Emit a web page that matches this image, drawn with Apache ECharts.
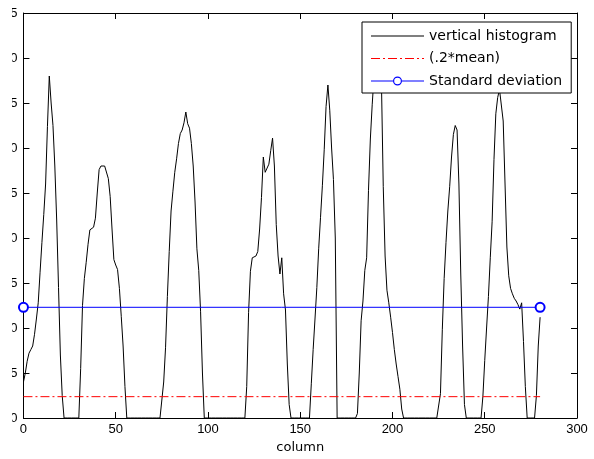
<!DOCTYPE html>
<html>
<head>
<meta charset="utf-8">
<script src="https://cdn.jsdelivr.net/npm/echarts@6/dist/echarts.min.js"></script>
<style>html,body{margin:0;padding:0;background:#fff;}#chart{width:594px;height:459px;}</style>
</head>
<body>
<div id="chart"></div>
<script>
// vertical histogram values, one per column 0..280
var histValues = [
  4.0,5.0,6.3,7.2,7.6,8.0,9.3,11.0,12.8,16.2,
  19.5,22.6,26.0,32.4,38.0,35.0,32.5,28.0,22.0,14.5,
  7.0,2.5,0,0,0,0,0,0,0,0,
  0,5.5,12.5,15.5,17.3,19.3,20.9,21.0,21.2,22.2,
  25.0,27.6,28.0,28.0,28.0,28.0,26.6,24.6,21.0,17.6,
  17.0,16.5,14.4,11.3,8.0,3.5,0,0,0,0,
  0,0,0,0,0,0,0,0,0,0,
  0,0,0,0,0,0,4.0,7.8,13.5,18.5,
  23.0,25.2,27.3,28.8,30.5,31.6,32.0,32.8,34.0,32.7,
  32.2,30.5,28.0,24.0,18.8,16.4,11.8,5.0,0,0,
  0,0,0,0,0,0,0,0,0,0,
  0,0,0,0,0,0,0,0,0,0,
  0,3.5,11.7,16.3,17.8,18.0,18.0,18.5,21.0,24.5,
  29.0,27.3,27.5,28.2,29.7,31.1,28.0,21.5,18.0,16.0,
  17.8,13.8,12.0,6.0,1.5,0,0,0,0,0,
  0,0,0,0,0,0,3.8,7.6,11.0,14.5,
  18.8,22.3,25.8,29.8,34.6,37.0,34.2,30.0,26.5,20.0,
  0,0,0,0,0,0,0,0,0,0,
  0,0.5,5.0,10.8,13.0,16.4,17.8,25.3,31.0,34.8,
  38.0,41.0,42.0,40.5,37.5,25.7,18.0,14.2,12.8,11.2,
  9.5,7.6,6.0,4.6,3.2,1.0,0,0,0,0,
  0,0,0,0,0,0,0,0,0,0,
  0,0,0,0,0,0,2.7,9.8,15.5,19.5,
  23.0,25.7,29.0,31.5,32.5,32.0,26.0,16.0,8.0,1.5,
  0,0,0,0,0,0,0,0,0,2.4,
  6.4,10.0,13.5,17.8,21.8,28.7,33.8,35.6,36.5,36.4,
  33.0,26.0,19.0,15.8,14.4,13.8,13.3,13.0,12.6,12.1,
  12.8,8.5,3.5,0,0,0,0,0,2.5,8.0,
  11.2
];
var lineStart = 0, lineEnd = 280;
var meanLevel = 2.37;   // (.2*mean)
var stdLevel = 12.3;    // standard deviation
var seriesNames = ['vertical histogram', '(.2*mean)', 'Standard deviation'];
var xTicks = { min: 0, max: 300, interval: 50 };
var yTicks = { min: 0, max: 45, interval: 5 };
var xLabel = 'column';

var histData = histValues.map(function (v, i) { return [i, v]; });
var meanData = [[lineStart, meanLevel], [lineEnd, meanLevel]];
var stdData = [[lineStart, stdLevel], [lineEnd, stdLevel]];

var tickFont = 'Liberation Sans';
var textFont = 'DejaVu Sans';

// legend sample icons (thin horizontal strokes)
var solidIcon = 'path://M0,0L53,0L53,1L0,1Z';
var dashDotIcon = 'path://M0,0L9,0L9,1L0,1Z M12,0L14,0L14,1L12,1Z M17,0L26,0L26,1L17,1Z M29,0L31,0L31,1L29,1Z M34,0L43,0L43,1L34,1Z M46,0L48,0L48,1L46,1Z M51,0L53,0L53,1L51,1Z';
var lineCircleIcon = 'path://M0,4L22,4L22,5L0,5Z M31,4L53,4L53,5L31,5Z ' +
  'M22,4.5A4.5,4.5 0 1,0 31,4.5A4.5,4.5 0 1,0 22,4.5Z ' +
  'M23.2,4.5A3.3,3.3 0 1,1 29.8,4.5A3.3,3.3 0 1,1 23.2,4.5Z';
var noBorder = { borderWidth: 0 };

function axisBase(extra) {
  var a = {
    type: 'value',
    axisLine: { show: true, onZero: false, lineStyle: { color: '#000', width: 1 } },
    axisTick: { show: true, inside: true, length: 6, lineStyle: { color: '#000' } },
    splitLine: { show: false },
    axisLabel: { show: false }
  };
  for (var k in extra) a[k] = extra[k];
  return a;
}

var chart = echarts.init(document.getElementById('chart'), null, { renderer: 'canvas' });
chart.setOption({
  animation: false,
  backgroundColor: '#fff',
  grid: { left: 21, right: 17, top: 13, bottom: 41, containLabel: false },
  xAxis: [
    axisBase({
      position: 'bottom', min: xTicks.min, max: xTicks.max, interval: xTicks.interval,
      name: xLabel, nameLocation: 'middle', nameGap: 19,
      nameTextStyle: { fontFamily: textFont, fontSize: 13, color: '#000' },
      axisLabel: { show: true, margin: 5, color: '#000', fontFamily: tickFont, fontSize: 13 }
    }),
    axisBase({ position: 'top', min: xTicks.min, max: xTicks.max, interval: xTicks.interval })
  ],
  yAxis: [
    axisBase({
      position: 'left', min: yTicks.min, max: yTicks.max, interval: yTicks.interval,
      axisLabel: { show: true, margin: 6, color: '#000', fontFamily: tickFont, fontSize: 13 }
    }),
    axisBase({ position: 'right', min: yTicks.min, max: yTicks.max, interval: yTicks.interval })
  ],
  legend: {
    orient: 'vertical', left: 362, top: 22,
    padding: [7, 9, 5, 9],
    itemWidth: 53, itemHeight: 11, itemGap: 8.5,
    symbolKeepAspect: true,
    backgroundColor: '#fff', borderColor: '#000', borderWidth: 1, borderRadius: 0,
    textStyle: { fontFamily: textFont, fontSize: 14, color: '#000' },
    data: [
      { name: seriesNames[0], icon: solidIcon, itemStyle: noBorder },
      { name: seriesNames[1], icon: dashDotIcon, itemStyle: noBorder },
      { name: seriesNames[2], icon: lineCircleIcon, itemStyle: noBorder }
    ]
  },
  graphic: [
    { type: 'rect', left: 0, top: 0, z: 100, shape: { width: 12, height: 459 }, style: { fill: '#fff' } }
  ],
  series: [
    {
      name: seriesNames[0], type: 'line', data: histData, symbol: 'none', showSymbol: false,
      lineStyle: { color: '#000', width: 1 }, itemStyle: { color: '#000' }, z: 2
    },
    {
      name: seriesNames[1], type: 'line', data: meanData, symbol: 'none', showSymbol: false,
      lineStyle: { color: '#ff0000', width: 1, type: [9, 3, 2, 3] }, itemStyle: { color: '#ff0000' }, z: 3
    },
    {
      name: seriesNames[2], type: 'line', data: stdData, symbol: 'emptyCircle', symbolSize: 9, showSymbol: true,
      lineStyle: { color: '#0000ff', width: 1 }, itemStyle: { color: '#0000ff', borderColor: '#0000ff', borderWidth: 1 }, z: 4
    }
  ]
});
</script>
</body>
</html>
